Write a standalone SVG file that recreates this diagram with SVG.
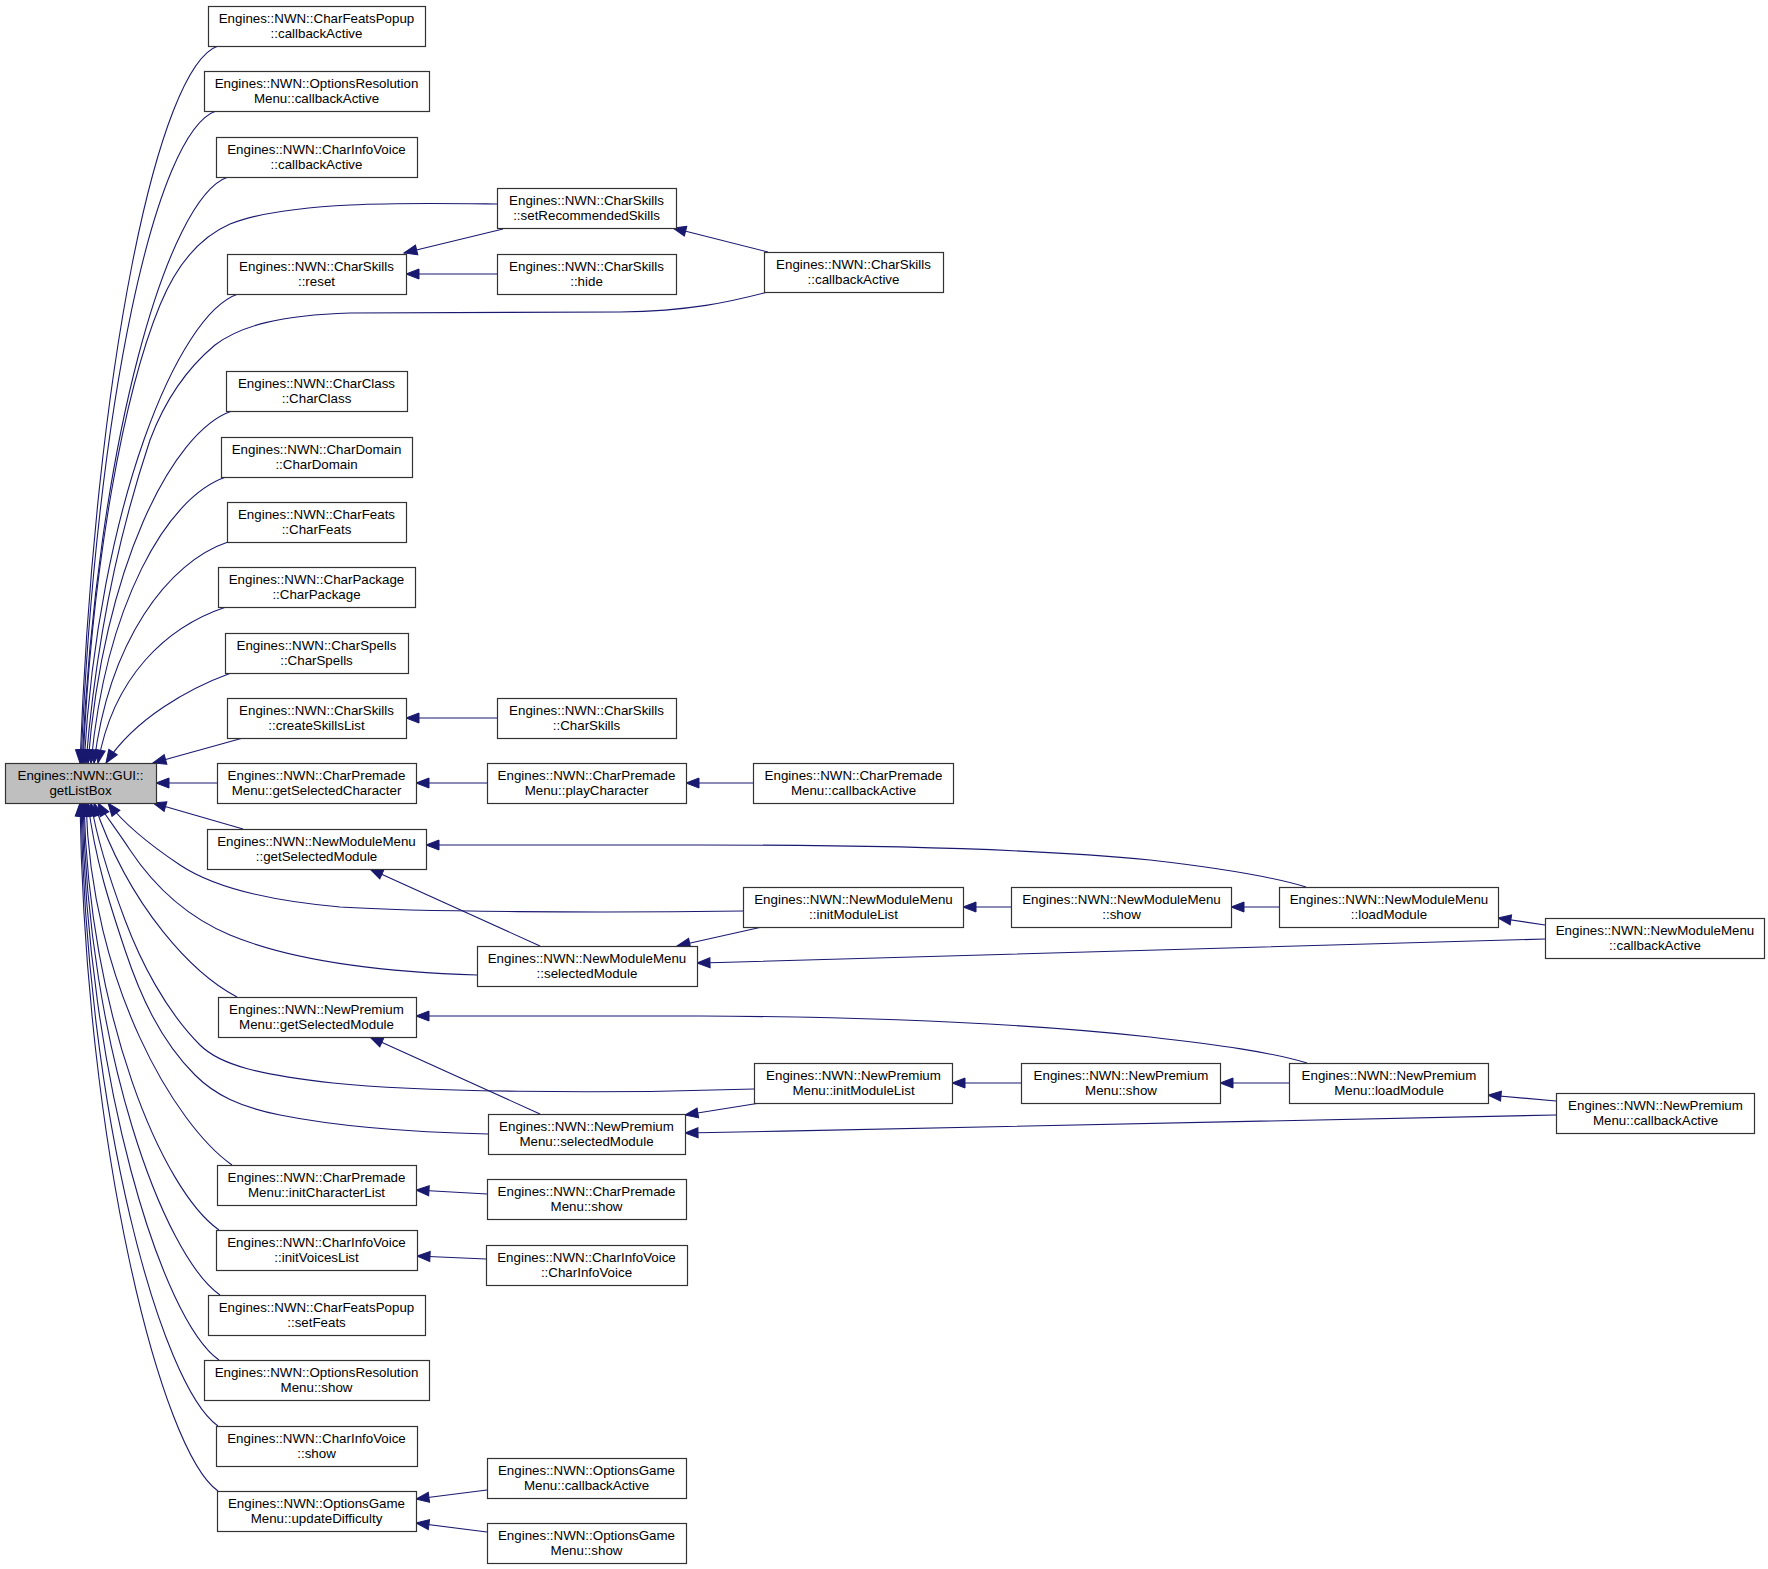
<svg xmlns="http://www.w3.org/2000/svg" width="1768" height="1569" viewBox="0 0 1768 1569">
<style>
.n rect{fill:#fff;stroke:#333;stroke-width:1.2}
.n.g rect{fill:#bfbfbf}
.n text{font-family:"Liberation Sans",Arial,Helvetica,sans-serif;font-size:13.33px;text-anchor:middle;fill:#000}
.e path{fill:none;stroke:#191970;stroke-width:1.1;marker-end:url(#ah)}
</style>
<defs>
<marker id="ah" markerUnits="userSpaceOnUse" viewBox="0 0 13 10" markerWidth="13" markerHeight="10" refX="13" refY="5" orient="auto" overflow="visible">
<path d="M0,0 L13,5 L0,10 Z" fill="#191970" stroke="#191970" stroke-width="1"/>
</marker>
</defs>
<rect width="1768" height="1569" fill="#fff"/>
<g id="edges" class="e">
<!-- into getListBox top -->
<path d="M218,46 C158,66 95,369 80,763"/>
<path d="M216,111 C156,131 96,404 81,763"/>
<path d="M228,177 C168,197 97,441 82,763"/>
<path d="M497,204 C420,203 290,200 230,224 C198,238 176,266 160,305 C125,390 92,560 83,763"/>
<path d="M238,294 C178,314 99,505 84,763"/>
<path d="M768,292 C730,302 690,311 620,312 L350,313 C280,315 240,326 215,345 C185,370 165,400 150,440 C120,530 96,640 86,763"/>
<path d="M232,411 C172,431 103,569 88,763"/>
<path d="M226,477 C166,497 106,606 91,763"/>
<path d="M228,542 C168,562 109,641 94,763"/>
<path d="M226,607 C166,627 113,677 98,763"/>
<path d="M231,673 C190,688 135,718 106,763"/>
<path d="M243,738 L153,763"/>
<path d="M217,783 L156,783"/>
<!-- into getListBox bottom -->
<path d="M243,829 L153,803"/>
<path d="M743,911 C600,913 420,912 340,907 C260,900 210,885 180,865 C150,845 125,825 108,803"/>
<path d="M477,975 C380,972 290,960 230,935 C180,914 150,880 130,850 C117,830 105,815 98,803"/>
<path d="M237,997 C195,975 130,910 94,803"/>
<path d="M754,1089 C600,1094 420,1092 333,1083 C260,1075 220,1065 200,1045 C165,1010 140,960 125,920 C110,880 97,840 91,803"/>
<path d="M488,1134 C400,1132 330,1125 280,1115 C240,1107 215,1095 195,1075 C160,1040 140,995 125,950 C110,905 95,860 88,803"/>
<path d="M232,1165 C175,1125 91,984 86,803"/>
<path d="M219,1230 C162,1190 89,1016 84,803"/>
<path d="M220,1295 C163,1255 88,1049 83,803"/>
<path d="M219,1360 C162,1320 87,1081 82,803"/>
<path d="M218,1426 C161,1386 86,1114 81,803"/>
<path d="M218,1491 C161,1451 85,1147 80,803"/>
<!-- other edges -->
<path d="M503,229 L404,253"/>
<path d="M497,274 L406,274"/>
<path d="M768,252 L673,228"/>
<path d="M497,718 L406,718"/>
<path d="M487,783 L416,783"/>
<path d="M753,783 L686,783"/>
<path d="M1306,887 C1270,876 1220,868 1150,860 C1050,850 900,845 700,845 L426,845"/>
<path d="M540,946 L370,869"/>
<path d="M762,927 L677,946"/>
<path d="M1545,939 C1200,949 950,957 697,963"/>
<path d="M1011,907 L963,907"/>
<path d="M1279,907 L1231,907"/>
<path d="M1545,925 L1498,918"/>
<path d="M1307,1063 C1270,1052 1220,1045 1150,1037 C1050,1026 900,1017 700,1016 L416,1016"/>
<path d="M540,1114 L370,1037"/>
<path d="M760,1103 L685,1115"/>
<path d="M1556,1115 C1200,1122 950,1128 685,1133"/>
<path d="M1021,1083 L952,1083"/>
<path d="M1289,1083 L1220,1083"/>
<path d="M1556,1101 L1488,1095"/>
<path d="M487,1194 L416,1190"/>
<path d="M486,1259 L417,1256"/>
<path d="M487,1490 L416,1499"/>
<path d="M487,1532 L416,1523"/>
</g>
<g id="getListBox" class="n g"><rect x="5.5" y="763.5" width="151" height="40"/><text x="80.5" y="780">Engines::NWN::GUI::</text><text x="80.5" y="795">getListBox</text></g>
<g id="L1" class="n"><rect x="208.5" y="6.5" width="217" height="40"/><text x="316.5" y="23">Engines::NWN::CharFeatsPopup</text><text x="316.5" y="38">::callbackActive</text></g>
<g id="L2" class="n"><rect x="204.5" y="71.5" width="225" height="40"/><text x="316.5" y="88">Engines::NWN::OptionsResolution</text><text x="316.5" y="103">Menu::callbackActive</text></g>
<g id="L3" class="n"><rect x="216.5" y="137.5" width="201" height="40"/><text x="316.5" y="154">Engines::NWN::CharInfoVoice</text><text x="316.5" y="169">::callbackActive</text></g>
<g id="L4" class="n"><rect x="227.5" y="254.5" width="179" height="40"/><text x="316.5" y="271">Engines::NWN::CharSkills</text><text x="316.5" y="286">::reset</text></g>
<g id="L5" class="n"><rect x="226.5" y="371.5" width="181" height="40"/><text x="316.5" y="388">Engines::NWN::CharClass</text><text x="316.5" y="403">::CharClass</text></g>
<g id="L6" class="n"><rect x="221.5" y="437.5" width="191" height="40"/><text x="316.5" y="454">Engines::NWN::CharDomain</text><text x="316.5" y="469">::CharDomain</text></g>
<g id="L7" class="n"><rect x="227.5" y="502.5" width="179" height="40"/><text x="316.5" y="519">Engines::NWN::CharFeats</text><text x="316.5" y="534">::CharFeats</text></g>
<g id="L8" class="n"><rect x="218.5" y="567.5" width="197" height="40"/><text x="316.5" y="584">Engines::NWN::CharPackage</text><text x="316.5" y="599">::CharPackage</text></g>
<g id="L9" class="n"><rect x="225.5" y="633.5" width="183" height="40"/><text x="316.5" y="650">Engines::NWN::CharSpells</text><text x="316.5" y="665">::CharSpells</text></g>
<g id="L10" class="n"><rect x="227.5" y="698.5" width="179" height="40"/><text x="316.5" y="715">Engines::NWN::CharSkills</text><text x="316.5" y="730">::createSkillsList</text></g>
<g id="L11" class="n"><rect x="217.5" y="763.5" width="199" height="40"/><text x="316.5" y="780">Engines::NWN::CharPremade</text><text x="316.5" y="795">Menu::getSelectedCharacter</text></g>
<g id="L12" class="n"><rect x="207.5" y="829.5" width="219" height="40"/><text x="316.5" y="846">Engines::NWN::NewModuleMenu</text><text x="316.5" y="861">::getSelectedModule</text></g>
<g id="L13" class="n"><rect x="218.5" y="997.5" width="198" height="40"/><text x="316.5" y="1014">Engines::NWN::NewPremium</text><text x="316.5" y="1029">Menu::getSelectedModule</text></g>
<g id="L14" class="n"><rect x="217.5" y="1165.5" width="199" height="40"/><text x="316.5" y="1182">Engines::NWN::CharPremade</text><text x="316.5" y="1197">Menu::initCharacterList</text></g>
<g id="L15" class="n"><rect x="216.5" y="1230.5" width="201" height="40"/><text x="316.5" y="1247">Engines::NWN::CharInfoVoice</text><text x="316.5" y="1262">::initVoicesList</text></g>
<g id="L16" class="n"><rect x="208.5" y="1295.5" width="217" height="40"/><text x="316.5" y="1312">Engines::NWN::CharFeatsPopup</text><text x="316.5" y="1327">::setFeats</text></g>
<g id="L17" class="n"><rect x="204.5" y="1360.5" width="225" height="40"/><text x="316.5" y="1377">Engines::NWN::OptionsResolution</text><text x="316.5" y="1392">Menu::show</text></g>
<g id="L18" class="n"><rect x="216.5" y="1426.5" width="201" height="40"/><text x="316.5" y="1443">Engines::NWN::CharInfoVoice</text><text x="316.5" y="1458">::show</text></g>
<g id="L19" class="n"><rect x="217.5" y="1491.5" width="199" height="40"/><text x="316.5" y="1508">Engines::NWN::OptionsGame</text><text x="316.5" y="1523">Menu::updateDifficulty</text></g>
<g id="M1" class="n"><rect x="497.5" y="188.5" width="179" height="40"/><text x="586.5" y="205">Engines::NWN::CharSkills</text><text x="586.5" y="220">::setRecommendedSkills</text></g>
<g id="M2" class="n"><rect x="497.5" y="254.5" width="179" height="40"/><text x="586.5" y="271">Engines::NWN::CharSkills</text><text x="586.5" y="286">::hide</text></g>
<g id="M3" class="n"><rect x="497.5" y="698.5" width="179" height="40"/><text x="586.5" y="715">Engines::NWN::CharSkills</text><text x="586.5" y="730">::CharSkills</text></g>
<g id="M4" class="n"><rect x="487.5" y="763.5" width="199" height="40"/><text x="586.5" y="780">Engines::NWN::CharPremade</text><text x="586.5" y="795">Menu::playCharacter</text></g>
<g id="M5" class="n"><rect x="477.5" y="946.5" width="220" height="40"/><text x="587" y="963">Engines::NWN::NewModuleMenu</text><text x="587" y="978">::selectedModule</text></g>
<g id="M6" class="n"><rect x="488.5" y="1114.5" width="197" height="40"/><text x="586.5" y="1131">Engines::NWN::NewPremium</text><text x="586.5" y="1146">Menu::selectedModule</text></g>
<g id="M7" class="n"><rect x="487.5" y="1179.5" width="199" height="40"/><text x="586.5" y="1196">Engines::NWN::CharPremade</text><text x="586.5" y="1211">Menu::show</text></g>
<g id="M8" class="n"><rect x="486.5" y="1245.5" width="201" height="40"/><text x="586.5" y="1262">Engines::NWN::CharInfoVoice</text><text x="586.5" y="1277">::CharInfoVoice</text></g>
<g id="M9" class="n"><rect x="487.5" y="1458.5" width="199" height="40"/><text x="586.5" y="1475">Engines::NWN::OptionsGame</text><text x="586.5" y="1490">Menu::callbackActive</text></g>
<g id="M10" class="n"><rect x="487.5" y="1523.5" width="199" height="40"/><text x="586.5" y="1540">Engines::NWN::OptionsGame</text><text x="586.5" y="1555">Menu::show</text></g>
<g id="T1" class="n"><rect x="764.5" y="252.5" width="179" height="40"/><text x="853.5" y="269">Engines::NWN::CharSkills</text><text x="853.5" y="284">::callbackActive</text></g>
<g id="T2" class="n"><rect x="753.5" y="763.5" width="200" height="40"/><text x="853.5" y="780">Engines::NWN::CharPremade</text><text x="853.5" y="795">Menu::callbackActive</text></g>
<g id="T3" class="n"><rect x="743.5" y="887.5" width="220" height="40"/><text x="853.5" y="904">Engines::NWN::NewModuleMenu</text><text x="853.5" y="919">::initModuleList</text></g>
<g id="T4" class="n"><rect x="754.5" y="1063.5" width="198" height="40"/><text x="853.5" y="1080">Engines::NWN::NewPremium</text><text x="853.5" y="1095">Menu::initModuleList</text></g>
<g id="F1" class="n"><rect x="1011.5" y="887.5" width="220" height="40"/><text x="1121.5" y="904">Engines::NWN::NewModuleMenu</text><text x="1121.5" y="919">::show</text></g>
<g id="F2" class="n"><rect x="1021.5" y="1063.5" width="199" height="40"/><text x="1121" y="1080">Engines::NWN::NewPremium</text><text x="1121" y="1095">Menu::show</text></g>
<g id="G1" class="n"><rect x="1279.5" y="887.5" width="219" height="40"/><text x="1389" y="904">Engines::NWN::NewModuleMenu</text><text x="1389" y="919">::loadModule</text></g>
<g id="G2" class="n"><rect x="1289.5" y="1063.5" width="199" height="40"/><text x="1389" y="1080">Engines::NWN::NewPremium</text><text x="1389" y="1095">Menu::loadModule</text></g>
<g id="H1" class="n"><rect x="1545.5" y="918.5" width="219" height="40"/><text x="1655" y="935">Engines::NWN::NewModuleMenu</text><text x="1655" y="950">::callbackActive</text></g>
<g id="H2" class="n"><rect x="1556.5" y="1093.5" width="198" height="40"/><text x="1655.5" y="1110">Engines::NWN::NewPremium</text><text x="1655.5" y="1125">Menu::callbackActive</text></g>
</svg>
